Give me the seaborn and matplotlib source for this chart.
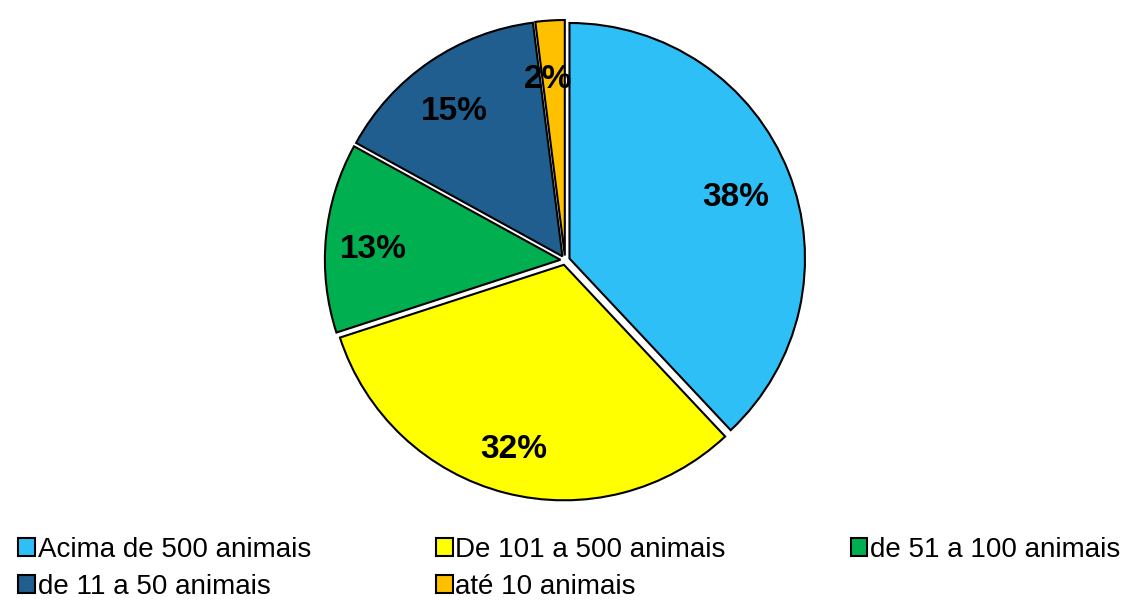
import matplotlib.pyplot as plt
import seaborn as sns
from matplotlib.patches import Patch

# Configuración
sns.set_theme(style="white")
plt.rcParams['font.family'] = ['Liberation Sans', 'DejaVu Sans']
plt.rcParams['text.color'] = 'black'

# Datos
categorias = ['Acima de 500 animais', 'De 101 a 500 animais', 'de 51 a 100 animais',
              'de 11 a 50 animais', 'até 10 animais']
porcentagens = [38, 32, 13, 15, 2]
cores = ['#2EBFF7', '#FFFF00', '#00B050', '#1F5E8E', '#FFC000']

fig = plt.figure(figsize=(11.32, 6.01), dpi=100)
ax = fig.add_axes([0.287, 0.167, 0.4244, 0.80])

wedges, textos, autotextos = ax.pie(
    porcentagens, colors=cores, startangle=90, counterclock=False,
    explode=[0.02] * len(porcentagens),
    autopct=lambda p: f"{p:.0f}%", pctdistance=0.78,
    wedgeprops=dict(edgecolor='black', linewidth=1.5),
    textprops=dict(fontsize=24, fontweight='bold', color='black'))
# rótulos um pouco mais abaixo, como no original
for t in autotextos:
    x, y = t.get_position()
    t.set_position((x - 0.02, y - 0.03))
ax.set_xlim(-1.02, 1.02)
ax.set_ylim(-1.02, 1.02)
ax.set_aspect('equal')

# legenda por linhas (matplotlib preenche por colunas)
ordem = [0, 3, 1, 4, 2]
handles = [Patch(facecolor=cores[i], edgecolor='black', linewidth=1.5) for i in ordem]
rotulos = [categorias[i] for i in ordem]
fig.legend(handles, rotulos, ncol=3, loc='lower left', bbox_to_anchor=(-0.006, -0.04),
           frameon=False, handlelength=0.6, handleheight=0.6, handletextpad=0.1,
           columnspacing=4.5, labelspacing=0.4, labelcolor='black',
           prop=dict(size=20))

fig.savefig('out.png', dpi=100)
